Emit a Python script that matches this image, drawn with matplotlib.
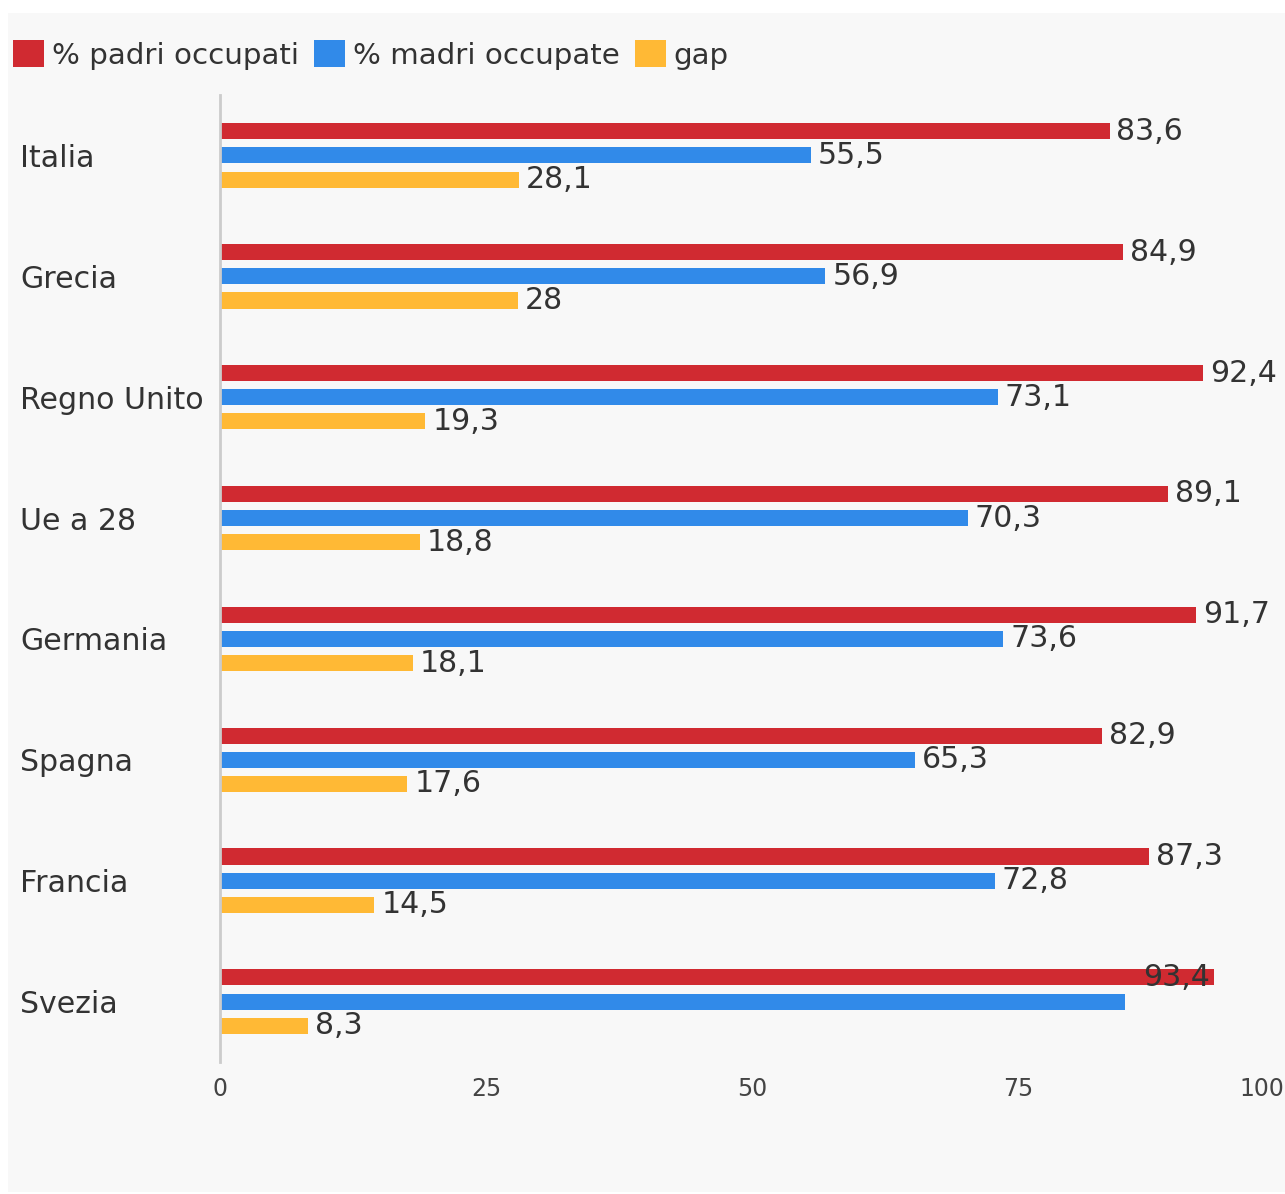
import matplotlib
matplotlib.use("Agg")
import matplotlib.pyplot as plt
from matplotlib.patches import Rectangle, Patch
import numpy as np

categories = ["Italia", "Grecia", "Regno Unito", "Ue a 28", "Germania", "Spagna", "Francia", "Svezia"]
padri = [83.6, 84.9, 92.4, 89.1, 91.7, 82.9, 87.3, 93.4]
madri = [55.5, 56.9, 73.1, 70.3, 73.6, 65.3, 72.8, 85.1]
gap = [28.1, 28, 19.3, 18.8, 18.1, 17.6, 14.5, 8.3]
series_names = ["% padri occupati", "% madri occupate", "gap"]
xticks = [0, 25, 50, 75, 100]

colors = ["#d02a31", "#318ae9", "#ffb935"]
text_color = "#333333"
FS = 21.6

W, H = 1285, 1194
fig = plt.figure(figsize=(W / 100, H / 100), dpi=100, facecolor="white")
fig.patches.append(Rectangle((8 / W, 1 - 1192 / H), (W - 8) / W, (1192 - 13) / H,
                             transform=fig.transFigure, facecolor="#f8f8f8",
                             edgecolor="none", zorder=-10))

ax = fig.add_axes([220 / W, 1 - 1062 / H, (1284 - 220) / W, (1062 - 95) / H])
ax.set_facecolor("none")

y = np.arange(len(categories))
offsets = [-0.2, 0.0, 0.2]
bh = 0.133


def fmt(v):
    s = ("%.1f" % v).rstrip("0").rstrip(".")
    return s.replace(".", ",")


for vals, off, c in zip([padri, madri, gap], offsets, colors):
    ax.barh(y + off, vals, height=bh, color=c, edgecolor="none")

# value labels
for si, (vals, off) in enumerate(zip([padri, madri, gap], offsets)):
    for i, v in enumerate(vals):
        if categories[i] == "Svezia" and si == 1:
            continue  # label hidden in the original
        if categories[i] == "Svezia" and si == 0:
            ax.annotate(fmt(v), (v, i + off), xytext=(-3, 0), textcoords="offset points",
                        ha="right", va="center", fontsize=FS, color=text_color)
        else:
            ax.annotate(fmt(v), (v, i + off), xytext=(5, 0), textcoords="offset points",
                        ha="left", va="center", fontsize=FS, color=text_color)

ax.set_xlim(0, 100)
ax.set_ylim(len(categories) - 0.5, -0.5)

for s in ["top", "right", "bottom"]:
    ax.spines[s].set_visible(False)
ax.spines["left"].set_color("#cccccc")
ax.spines["left"].set_linewidth(2)

ax.set_yticks(y)
ax.set_yticklabels(categories, fontsize=FS, color=text_color, ha="left")
ax.tick_params(axis="y", length=0, pad=144)

ax.set_xticks(xticks)
ax.set_xticklabels([str(t) for t in xticks], fontsize=17, color="#444444")
ax.tick_params(axis="x", length=0, pad=11)
xl = ax.get_xticklabels()
xl[-1].set_horizontalalignment("right")

handles = [Patch(facecolor=c, edgecolor="none") for c in colors]
fig.legend(handles, series_names, loc="center left", bbox_to_anchor=(13 / W, 1 - 55 / H),
           frameon=False, fontsize=21.2, handlelength=1.05, handleheight=1.05,
           handletextpad=0.28, columnspacing=0.5, ncol=3, borderpad=0, borderaxespad=0,
           labelcolor=text_color)

fig.savefig("out.png", dpi=100, facecolor="white")
